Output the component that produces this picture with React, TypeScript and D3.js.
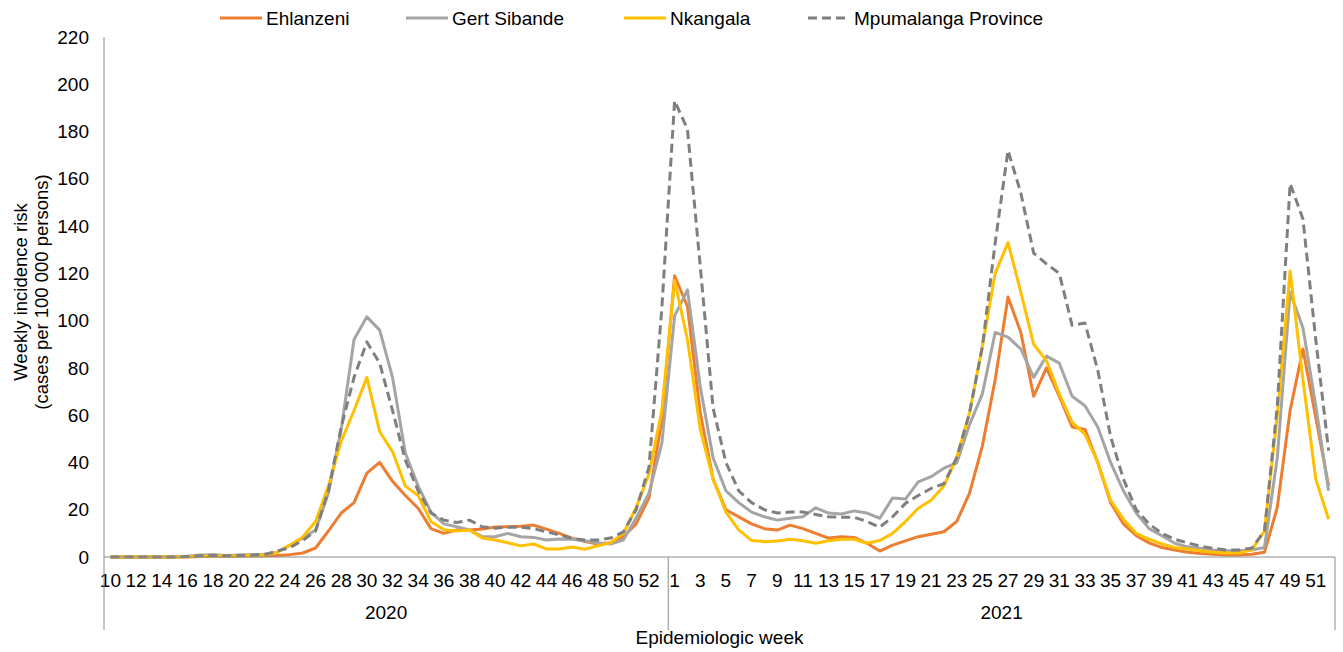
import * as d3 from "d3";
import { useRef, useEffect } from "react";

// epidemiologic weeks shown on the x axis
const weeks2020 = [10, 11, 12, 13, 14, 15, 16, 17, 18, 19, 20, 21, 22, 23, 24, 25, 26, 27, 28, 29, 30, 31, 32, 33, 34, 35, 36, 37, 38, 39, 40, 41, 42, 43, 44, 45, 46, 47, 48, 49, 50, 51, 52, 53];
const weeks2021 = [1, 2, 3, 4, 5, 6, 7, 8, 9, 10, 11, 12, 13, 14, 15, 16, 17, 18, 19, 20, 21, 22, 23, 24, 25, 26, 27, 28, 29, 30, 31, 32, 33, 34, 35, 36, 37, 38, 39, 40, 41, 42, 43, 44, 45, 46, 47, 48, 49, 50, 51, 52];

// weekly incidence risk (cases per 100 000), 2020 wk10 .. 2021 wk52
const ehlanzeni = [
  0, 0, 0, 0, 0, 0, 0, 0.2, 0.3, 0.3, 0.3, 0.4, 0.5, 0.6,
  1, 1.7, 3.8, 11, 18.6, 23, 35.5, 40, 32, 26, 20.6, 12, 10, 11.4, 11.4, 11.8,
  12.7, 12.8, 13, 13.5, 11.8, 10, 8, 6.5, 5.5, 6, 8.6, 14, 25, 58,
  119, 106, 61, 33, 20, 17, 14, 12, 11.4, 13.5, 12, 10, 8, 8.6, 8.3, 5.8, 2.5, 5,
  6.8, 8.6, 9.6, 10.7, 15, 27, 47, 75, 110, 95, 68, 80, 68, 55, 54, 40, 23, 14,
  9, 6, 4, 3, 2, 1.5, 1.2, 0.8, 0.8, 1.2, 2, 21, 62, 88, 59, 30,
];
const gertSibande = [
  0, 0, 0, 0, 0, 0, 0.3, 0.8, 1, 0.6, 0.8, 1, 1.2, 2,
  5, 8, 11.4, 27, 54, 92, 101.6, 96, 76, 44, 30, 19, 14, 12.8, 11.4, 8.6,
  8.6, 10, 8.6, 8.3, 7.2, 7.6, 7.5, 6.9, 6, 5.5, 7.2, 16.5, 27, 48,
  102, 113, 72, 42, 28, 23, 19, 17, 15.6, 16.4, 17, 20.8, 18.6, 18.2, 19.5, 18.6, 16.4, 25,
  24.5, 31.8, 34, 37.6, 39.8, 56, 69, 95, 93, 88, 76, 85, 82, 68, 64, 55, 40, 28,
  18.6, 12, 9, 5.8, 4.3, 3.7, 3, 2.6, 2.6, 3, 4, 42, 112, 97, 64, 28,
];
const nkangala = [
  0, 0, 0, 0, 0, 0, 0.2, 0.3, 0.4, 0.4, 0.5, 0.6, 0.8, 2,
  5, 8.5, 15, 30, 49, 62, 76, 53, 44.6, 30, 26, 15, 11.5, 11, 11.4, 8,
  7.2, 6, 4.7, 5.5, 3.4, 3.4, 4.2, 3.3, 4.7, 6, 10, 21, 35, 62,
  117, 92, 54, 33, 19, 11.5, 7, 6.5, 6.8, 7.5, 6.9, 5.8, 6.9, 7.5, 7.5, 5.8, 7, 10,
  15, 20.6, 24, 30, 42, 61, 89, 120, 133, 112, 90, 83, 69, 57, 52, 40, 24, 16,
  10, 7.5, 5.5, 4, 3.4, 2.6, 2, 1.7, 1.7, 3, 11, 60, 121, 75, 33, 16,
];
const mpumalanga = [
  0, 0, 0, 0, 0, 0, 0.2, 0.5, 0.7, 0.5, 0.6, 0.8, 1, 2.5,
  4, 7, 11, 28, 55, 76, 91, 82, 62, 41, 28, 18.6, 15.6, 14.6, 15.6, 12.8,
  12.2, 12.6, 12.6, 12, 10.7, 9.3, 7.9, 7.2, 7.2, 8, 10.6, 20, 38, 105,
  193, 181, 123, 63, 40, 28, 23, 20, 18.6, 19, 19, 18, 17, 16.8, 16.8, 15, 12.6, 17,
  22.7, 26, 29, 31, 42, 61, 89, 133, 172, 154, 128.6, 124, 120, 98, 99, 79, 51, 33,
  20, 14, 10, 7.5, 6, 4.6, 3.7, 3, 3, 3.7, 11, 64, 158, 143, 92, 45,
];

const seriesNames = ["Ehlanzeni", "Gert Sibande", "Nkangala", "Mpumalanga Province"];
const seriesColours = ["#ED7D31", "#A5A5A5", "#FFC000", "#7F7F7F"];
const yTicks = [0, 20, 40, 60, 80, 100, 120, 140, 160, 180, 200, 220];
const years = ["2020", "2021"];

const FONT = "'Liberation Sans', Arial, sans-serif";
const FS = 19;

export default function App() {
  const chartRef = useRef<SVGSVGElement>(null);
  const width = 1343;
  const height = 652;

  useEffect(() => {
    const svg = d3.select(chartRef.current);
    svg.selectAll("*").remove();

    const margin = { left: 104, right: 8, top: 37, bottom: 95 };

    const keys = [
      ...weeks2020.map((w) => `2020-${w}`),
      ...weeks2021.map((w) => `2021-${w}`),
    ];
    const labels = [...weeks2020, ...weeks2021];
    const allSeries = [ehlanzeni, gertSibande, nkangala, mpumalanga];

    const x = d3
      .scaleBand()
      .domain(keys)
      .range([margin.left, width - margin.right]);
    const cx = (k: string) => (x(k) as number) + x.bandwidth() / 2;

    const y = d3
      .scaleLinear()
      .domain([0, 220])
      .range([height - margin.bottom, margin.top]);

    const axisColour = "#8c8c8c";
    const y0 = y(0);

    // Y axis
    svg
      .append("line")
      .attr("x1", margin.left)
      .attr("x2", margin.left)
      .attr("y1", y(220))
      .attr("y2", y0)
      .attr("stroke", axisColour)
      .attr("stroke-width", 1);

    svg
      .append("g")
      .selectAll("text")
      .data(yTicks)
      .join("text")
      .attr("x", 89)
      .attr("y", (d) => y(d))
      .attr("dy", "0.35em")
      .attr("text-anchor", "end")
      .attr("font-family", FONT)
      .attr("font-size", FS)
      .attr("fill", "#000")
      .text((d) => d);

    // Y title
    const yTitle = svg
      .append("text")
      .attr("transform", `translate(27,${(y(220) + y0) / 2 - 5}) rotate(-90)`)
      .attr("text-anchor", "middle")
      .attr("font-family", FONT)
      .attr("font-size", 18.5)
      .attr("fill", "#000");
    yTitle.append("tspan").attr("x", 0).attr("dy", 0).text("Weekly incidence risk");
    yTitle.append("tspan").attr("x", 0).attr("dy", 21).text("(cases per 100 000 persons)");

    // Lines
    const line = d3
      .line<number>()
      .x((_, i) => cx(keys[i]))
      .y((d) => y(d));

    svg
      .append("g")
      .selectAll("path")
      .data(allSeries)
      .join("path")
      .attr("d", (d) => line(d))
      .attr("fill", "none")
      .attr("stroke", (_, i) => seriesColours[i])
      .attr("stroke-width", 3)
      .attr("stroke-linejoin", "round")
      .attr("stroke-dasharray", (_, i) => (i === 3 ? "9,5" : null));

    // X axis
    svg
      .append("line")
      .attr("x1", margin.left)
      .attr("x2", width - margin.right)
      .attr("y1", y0)
      .attr("y2", y0)
      .attr("stroke", axisColour)
      .attr("stroke-width", 1);

    svg
      .append("g")
      .selectAll("text")
      .data(keys.filter((k, i) => (k.startsWith("2020") ? labels[i] % 2 === 0 : labels[i] % 2 === 1)))
      .join("text")
      .attr("x", (k) => cx(k))
      .attr("y", y0 + 30)
      .attr("text-anchor", "middle")
      .attr("font-family", FONT)
      .attr("font-size", FS)
      .attr("fill", "#000")
      .text((k) => k.split("-")[1]);

    // Year groups
    const groupEdges = [
      x(keys[0]) as number,
      x(`2021-${weeks2021[0]}`) as number,
      (x(keys[keys.length - 1]) as number) + x.bandwidth(),
    ];

    svg
      .append("g")
      .selectAll("line")
      .data(groupEdges)
      .join("line")
      .attr("x1", (d) => d)
      .attr("x2", (d) => d)
      .attr("y1", y0)
      .attr("y2", y0 + 73)
      .attr("stroke", axisColour)
      .attr("stroke-width", 1);

    svg
      .append("g")
      .selectAll("text")
      .data(years)
      .join("text")
      .attr("x", (_, i) => (groupEdges[i] + groupEdges[i + 1]) / 2)
      .attr("y", y0 + 62)
      .attr("text-anchor", "middle")
      .attr("font-family", FONT)
      .attr("font-size", FS)
      .attr("fill", "#000")
      .text((d) => d);

    svg
      .append("text")
      .attr("x", (margin.left + width - margin.right) / 2)
      .attr("y", y0 + 87)
      .attr("text-anchor", "middle")
      .attr("font-family", FONT)
      .attr("font-size", FS)
      .attr("fill", "#000")
      .text("Epidemiologic week");

    // Legend
    const legendX = [220, 406, 624, 808];
    const legend = svg
      .append("g")
      .selectAll("g")
      .data(seriesNames)
      .join("g")
      .attr("transform", (_, i) => `translate(${legendX[i]},18)`);

    legend
      .append("line")
      .attr("x1", 0)
      .attr("x2", 42)
      .attr("stroke", (_, i) => seriesColours[i])
      .attr("stroke-width", 3)
      .attr("stroke-dasharray", (_, i) => (i === 3 ? "9,5" : null));

    legend
      .append("text")
      .attr("x", 46)
      .attr("dy", "0.35em")
      .attr("font-family", FONT)
      .attr("font-size", FS)
      .attr("fill", "#000")
      .text((d) => d);
  }, []);

  return (
    <svg
      ref={chartRef}
      width={width}
      height={height}
      viewBox={`0 0 ${width} ${height}`}
      style={{ position: "absolute", left: 0, top: 0, background: "#fff" }}
    />
  );
}
